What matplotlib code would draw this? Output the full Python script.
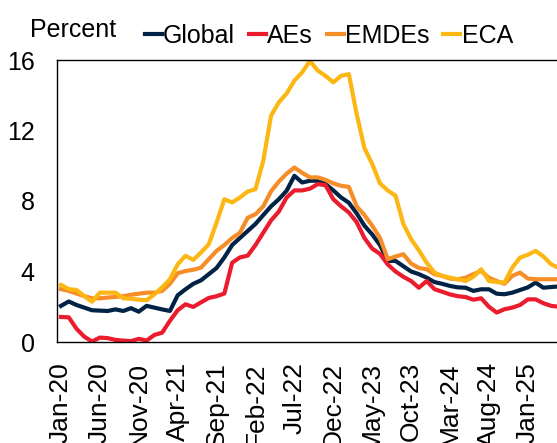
import numpy as np
import pandas as pd
import matplotlib
matplotlib.use('Agg')
import matplotlib.pyplot as plt

plt.rcParams['font.family'] = ['Liberation Sans', 'DejaVu Sans']

# monthly headline inflation, percent (Jan-20 .. May-25)
months = pd.date_range('2020-01-01', periods=65, freq='MS')
month_labels = [m.strftime('%b-%y') for m in months]

global_infl = [2.05, 2.3, 2.1, 1.95, 1.8, 1.78, 1.76, 1.85, 1.76, 1.92,
               1.72, 2.05, 1.95, 1.85, 1.76, 2.65, 2.99, 3.3, 3.5, 3.85,
               4.2, 4.8, 5.5, 5.9, 6.3, 6.7, 7.2, 7.7, 8.1, 8.58,
               9.43, 9.05, 9.15, 9.15, 8.96, 8.6, 8.2, 7.9, 7.3, 6.6,
               6.1, 5.5, 4.6, 4.6, 4.3, 4.0, 3.85, 3.65, 3.4, 3.3,
               3.18, 3.1, 3.08, 2.9, 2.99, 2.99, 2.74, 2.71, 2.8, 2.95,
               3.1, 3.37, 3.08, 3.12, 3.15]
aes_infl = [1.42, 1.4, 0.75, 0.3, 0.03, 0.25, 0.22, 0.12, 0.08, 0.05,
            0.18, 0.08, 0.4, 0.53, 1.2, 1.8, 2.14, 1.99, 2.25, 2.5,
            2.6, 2.75, 4.5, 4.8, 4.9, 5.5, 6.2, 6.9, 7.4, 8.2,
            8.6, 8.6, 8.7, 8.96, 8.9, 8.1, 7.7, 7.35, 6.8, 5.9,
            5.3, 5.0, 4.4, 4.0, 3.7, 3.46, 3.08, 3.46, 3.0, 2.85,
            2.7, 2.6, 2.55, 2.4, 2.48, 2.0, 1.67, 1.86, 1.95, 2.1,
            2.42, 2.42, 2.2, 2.05, 2.0]
emdes_infl = [3.0, 2.9, 2.75, 2.6, 2.48, 2.48, 2.52, 2.56, 2.6, 2.68,
              2.74, 2.8, 2.8, 2.9, 3.3, 3.9, 4.03, 4.1, 4.22, 4.7,
              5.17, 5.5, 5.9, 6.2, 7.05, 7.25, 7.7, 8.55, 9.1, 9.55,
              9.9, 9.6, 9.34, 9.34, 9.2, 9.0, 8.86, 8.8, 7.7, 7.2,
              6.6, 5.9, 4.7, 4.85, 4.98, 4.45, 4.2, 4.13, 3.85, 3.75,
              3.6, 3.56, 3.65, 3.85, 4.03, 3.65, 3.46, 3.3, 3.75, 3.94,
              3.6, 3.56, 3.56, 3.56, 3.56]
eca_infl = [3.24, 3.0, 2.95, 2.6, 2.29, 2.8, 2.8, 2.8, 2.48, 2.45,
            2.4, 2.37, 2.7, 3.1, 3.56, 4.41, 4.89, 4.66, 5.08, 5.55,
            6.78, 8.1, 7.92, 8.2, 8.54, 8.67, 10.28, 12.84, 13.6, 14.1,
            14.83, 15.3, 15.95, 15.4, 15.1, 14.73, 15.1, 15.2, 12.94, 11.0,
            10.1, 9.0, 8.6, 8.3, 6.7, 5.83, 5.2, 4.5, 3.94, 3.75,
            3.65, 3.56, 3.46, 3.7, 4.13, 3.46, 3.4, 3.37, 4.22, 4.79,
            4.95, 5.17, 4.85, 4.41, 4.2]

series = [('Global', global_infl, '#002345'),
          ('AEs', aes_infl, '#EB1C2D'),
          ('EMDEs', emdes_infl, '#F78D28'),
          ('ECA', eca_infl, '#FDB714')]

fig = plt.figure(figsize=(5.57, 4.43), dpi=100)
ax = fig.add_axes([57 / 557, 1 - 342 / 443, 500 / 557, 282 / 443])

x = np.arange(len(months))
for name, vals, col in series:
    ax.plot(x, vals, color=col, lw=3, label=name)

ax.set_xlim(-0.51, 63.75)
ax.set_ylim(0, 16)
ax.set_yticks([0, 4, 8, 12, 16])
ax.set_xticks(x[:61:5])
ax.set_xticklabels(month_labels[:61:5], rotation=90, fontsize=19)
ax.tick_params(axis='y', length=0, pad=16, labelsize=18)
ax.tick_params(axis='x', length=0, pad=14.4)

for s in ['left', 'top', 'bottom']:
    ax.spines[s].set_color('black')
    ax.spines[s].set_linewidth(1)
ax.spines['right'].set_visible(False)

fig.text(30 / 557, 1 - 37 / 443, 'Percent', fontsize=18, va='baseline')
fig.legend(loc='center left', bbox_to_anchor=(145 / 557, 1 - 36 / 443),
           ncol=4, frameon=False, fontsize=18, borderpad=0, borderaxespad=0,
           handlelength=0.68, handletextpad=0.05, columnspacing=0.55)

fig.savefig('out.png', dpi=100)
